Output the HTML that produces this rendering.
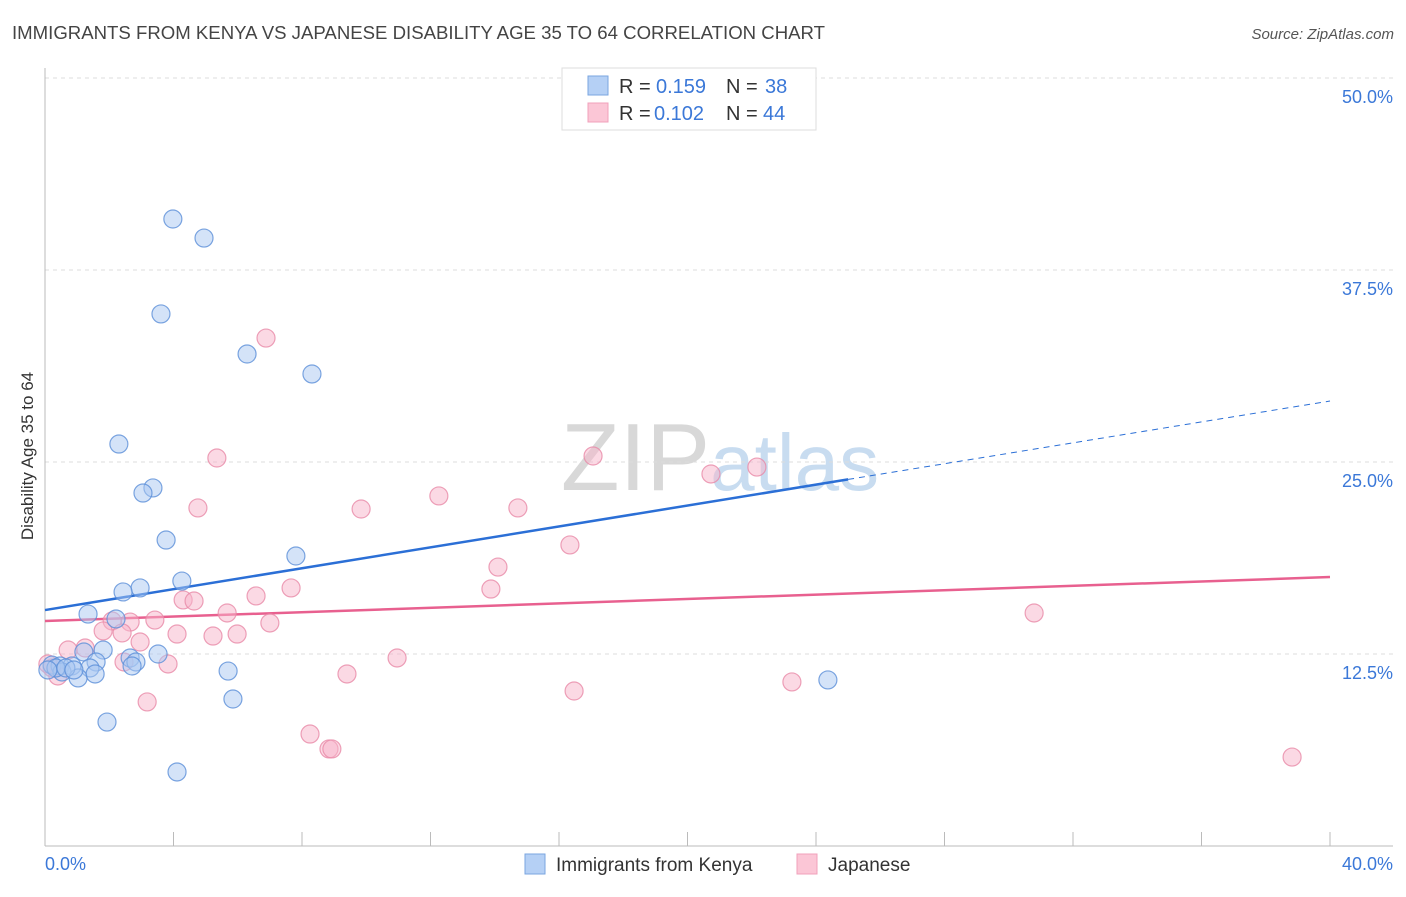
<!DOCTYPE html>
<html><head><meta charset="utf-8">
<style>
body{margin:0;background:#fff;font-family:"Liberation Sans",sans-serif;}
svg text{font-family:"Liberation Sans",sans-serif;}
</style></head>
<body>
<svg id="chart" width="1406" height="892" viewBox="0 0 1406 892" xmlns="http://www.w3.org/2000/svg">
<text x="12" y="39" font-size="18" fill="#444" textLength="813" lengthAdjust="spacingAndGlyphs">IMMIGRANTS FROM KENYA VS JAPANESE DISABILITY AGE 35 TO 64 CORRELATION CHART</text>
<text x="1394" y="39" font-size="15" fill="#555" text-anchor="end" font-style="italic">Source: ZipAtlas.com</text>
<text x="720" y="490" font-size="96" text-anchor="middle" fill="#ddd" font-family="Liberation Serif"><tspan fill="#d8d8d8">ZIP</tspan><tspan fill="#c8dcf0" font-family="Liberation Sans" font-size="80">atlas</tspan></text>
<text transform="translate(33,456) rotate(-90)" font-size="17" fill="#333" text-anchor="middle">Disability Age 35 to 64</text>
<g id="grid"></g>
<g id="axes"></g>
<g id="trend"></g>
<g id="pts"></g>
<g>
<rect x="562" y="68" width="254" height="62" fill="#fff" stroke="#ddd"/>
<rect x="588" y="76" width="20" height="19" fill="#b5d0f5" stroke="#7aa6e0"/>
<rect x="588" y="103" width="20" height="19" fill="#fbc6d6" stroke="#f0a0bb"/>
<text x="619" y="93" font-size="20" fill="#333">R =</text>
<text x="656" y="93" font-size="20" fill="#3b78d8">0.159</text>
<text x="726" y="93" font-size="20" fill="#333">N =</text>
<text x="765" y="93" font-size="20" fill="#3b78d8">38</text>
<text x="619" y="120" font-size="20" fill="#333">R =</text>
<text x="654" y="120" font-size="20" fill="#3b78d8">0.102</text>
<text x="726" y="120" font-size="20" fill="#333">N =</text>
<text x="763" y="120" font-size="20" fill="#3b78d8">44</text>
</g>
<g>
<rect x="525" y="854" width="20" height="20" fill="#b5d0f5" stroke="#7aa6e0"/>
<text x="556" y="871" font-size="19" fill="#333">Immigrants from Kenya</text>
<rect x="797" y="854" width="20" height="20" fill="#fbc6d6" stroke="#f0a0bb"/>
<text x="828" y="871" font-size="19" fill="#333">Japanese</text>
</g>
</svg>
<script>
const yTicks=[12.5,25,37.5,50];
const yTickLabels=["12.5%","25.0%","37.5%","50.0%"];
const xTickLabels=["0.0%","40.0%"];
const kenyaX=[3.98,4.95,3.61,6.29,8.31,2.30,3.36,3.05,3.77,7.81,4.26,2.96,2.43,1.34,2.21,1.81,3.52,2.65,2.83,2.71,1.21,1.59,0.22,0.47,0.84,1.40,0.53,1.03,1.56,5.70,24.37,5.85,1.93,4.11,0.34,0.09,0.65,0.90];
const kenyaY=[40.82,39.58,34.64,32.03,30.73,26.17,23.31,22.98,19.92,18.88,17.25,16.80,16.54,15.10,14.78,12.76,12.50,12.24,11.98,11.72,12.63,11.98,11.78,11.72,11.72,11.59,11.33,10.94,11.20,11.39,10.81,9.57,8.07,4.82,11.59,11.46,11.59,11.46];
const japX=[6.88,5.35,17.06,20.73,22.16,12.26,14.72,4.76,9.84,16.34,14.10,7.66,13.88,4.30,4.64,6.57,5.67,30.79,3.42,2.65,7.00,2.09,1.81,2.40,4.11,5.23,5.98,2.96,1.25,0.72,2.46,3.83,10.96,9.40,16.47,23.25,3.18,8.25,8.84,8.93,38.82,0.22,0.40,0.09];
const japY=[33.07,25.26,25.39,24.22,24.67,22.79,22.01,22.01,21.94,19.60,18.16,16.80,16.73,16.02,15.95,16.28,15.17,15.17,14.71,14.58,14.52,14.65,14.00,13.87,13.80,13.67,13.80,13.28,12.89,12.76,11.98,11.85,12.24,11.20,10.09,10.68,9.38,7.29,6.32,6.32,5.79,11.59,11.07,11.85];
const kenyaTrend=[15.36,28.97]; const kenyaSolidEnd=25.0;
const japTrend=[14.65,17.51];
const NS="http://www.w3.org/2000/svg";
const sx=v=>45+v/40*1285, sy=v=>846-v/12.5*192;
function mk(tag,attrs,parent){const e=document.createElementNS(NS,tag);for(const k in attrs)e.setAttribute(k,attrs[k]);parent.appendChild(e);return e;}
const grid=document.getElementById('grid'),axes=document.getElementById('axes'),trend=document.getElementById('trend'),pts=document.getElementById('pts');
yTicks.forEach((t,i)=>{
 const l=mk('line',{x1:45,x2:1393,y1:sy(t),y2:sy(t),stroke:'#ddd','stroke-dasharray':'4,4'},grid);
 
 
 const tx=mk('text',{x:1393,y:sy(t)+25,'font-size':18,fill:'#3b78d8','text-anchor':'end'},axes);
 tx.textContent=yTickLabels[i];
 
 
});
mk('line',{x1:45,x2:45,y1:68,y2:846,stroke:'#bbb'},axes);
mk('line',{x1:45,x2:1393,y1:846,y2:846,stroke:'#bbb'},axes);
for(let i=0;i<=10;i++){const t=mk('line',{x1:sx(i*4),x2:sx(i*4),y1:832,y2:846,stroke:'#bbb'},axes);
 
 }
const xl0=mk('text',{x:45,y:870,'font-size':18,fill:'#3b78d8'},axes);xl0.textContent=xTickLabels[0];


const xl1=mk('text',{x:1393,y:870,'font-size':18,fill:'#3b78d8','text-anchor':'end'},axes);xl1.textContent=xTickLabels[1];


function drawPts(X,Y,fill,stroke,name){X.forEach((x,i)=>{const c=mk('circle',{cx:sx(x),cy:sy(Y[i]),r:9,fill:fill,'fill-opacity':0.5,stroke:stroke,'stroke-width':1.2,'stroke-opacity':0.8},pts);
 
 });}
drawPts(japX,japY,'#f8b4c9','#e88aa8','japanese-point');
drawPts(kenyaX,kenyaY,'#a9c8f2','#5b8fd8','kenya-point');
const kAt=x=>kenyaTrend[0]+(kenyaTrend[1]-kenyaTrend[0])*x/40;
const b1=mk('line',{x1:sx(0),y1:sy(kAt(0)),x2:sx(kenyaSolidEnd),y2:sy(kAt(kenyaSolidEnd)),stroke:'#2b6fd6','stroke-width':2.5},trend);


const b2=mk('line',{x1:sx(kenyaSolidEnd),y1:sy(kAt(kenyaSolidEnd)),x2:sx(40),y2:sy(kAt(40)),stroke:'#2b6fd6','stroke-width':1,'stroke-dasharray':'6,5'},trend);


const p1=mk('line',{x1:sx(0),y1:sy(japTrend[0]),x2:sx(40),y2:sy(japTrend[1]),stroke:'#e8608f','stroke-width':2.5},trend);


</script>
</body></html>
